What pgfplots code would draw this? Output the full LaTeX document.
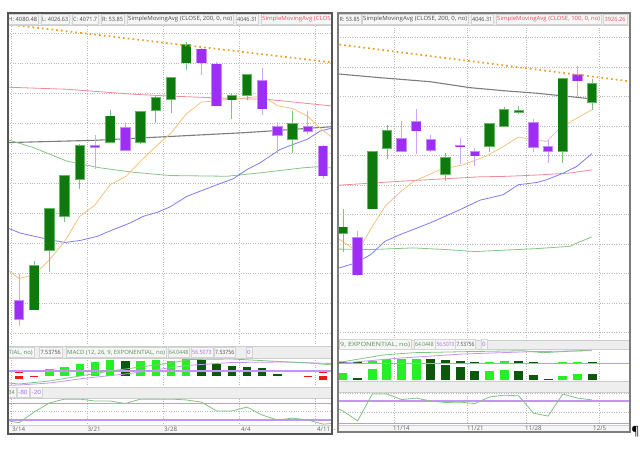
\documentclass[border=0pt]{standalone}
\usepackage{pgfplots}
\pgfplotsset{compat=1.18}
\usepackage{pgfplotstable}
\usepackage{graphicx}
\usepackage{fontspec}
\setmainfont{Open Sans}

\definecolor{upfill}{RGB}{14,122,14}
\definecolor{upedge}{RGB}{100,185,100}
\definecolor{upwick}{RGB}{125,195,125}
\definecolor{dnfill}{RGB}{158,46,246}
\definecolor{dnedge}{RGB}{195,140,250}
\definecolor{dnwick}{RGB}{210,165,250}
\definecolor{gridc}{RGB}{185,185,185}
\definecolor{maorange}{RGB}{242,196,128}
\definecolor{matrend}{RGB}{238,158,38}
\definecolor{mared}{RGB}{240,140,150}
\definecolor{magray}{RGB}{125,125,125}
\definecolor{magreen}{RGB}{135,198,135}
\definecolor{mablue}{RGB}{125,125,250}
\definecolor{hbright}{RGB}{40,238,40}
\definecolor{hdark}{RGB}{12,88,12}
\definecolor{hred}{RGB}{240,25,25}
\definecolor{macdg}{RGB}{130,195,130}
\definecolor{macdp}{RGB}{196,150,244}
\definecolor{txtg}{RGB}{85,145,85}
\definecolor{txtp}{RGB}{165,105,230}
\definecolor{txtr}{RGB}{232,80,95}
\definecolor{txt}{RGB}{75,75,75}
\definecolor{band}{RGB}{238,238,238}
\definecolor{band2}{RGB}{246,246,246}
\definecolor{boxf}{RGB}{246,246,246}
\definecolor{boxd}{RGB}{212,212,212}
\definecolor{sep}{RGB}{205,205,205}
\definecolor{framel}{RGB}{85,85,85}
\definecolor{framer}{RGB}{125,125,125}
\definecolor{lbl}{RGB}{100,100,100}

% ---------- left panel: March/April ----------
\pgfplotstableread{
i o h l c
1 4189 4271 4188 4262
2 4288 4358 4251 4357
3 4345 4413 4336 4412
4 4407 4465 4390 4463
6 4469 4522 4469 4512
8 4469 4521 4465 4520
9 4523 4546 4501 4543
10 4541 4576 4518 4576
11 4602 4637 4589 4631
14 4540 4549 4507 4546
15 4547 4583 4539 4582
18 4474 4521 4450 4500
}\LUp
\pgfplotstableread{
i o h l c
-1 4279 4291 4200 4204
0 4203 4248 4162 4173
5 4462 4481 4424 4461
7 4493 4501 4455 4456
12 4624 4627 4581 4602
13 4599 4603 4530 4530
16 4572 4593 4514 4525
17 4494 4503 4450 4481
19 4494 4521 4483 4488
20 4462 4464 4408 4413
}\LDn
% ---------- right panel: November ----------
\pgfplotstableread{
i o h l c
0 3818 3859 3786 3828
2 3860 3958 3859 3956
3 3963 4001 3944 3992
7 3919 3954 3907 3946
10 3966 4004 3956 4004
11 4000 4033 3999 4027
12 4024 4034 4021 4026
15 3957 4080 3938 4080
17 4041 4080 4027 4071
}\RUp
\pgfplotstableread{
i o h l c
1 3811 3822 3745 3748
4 3978 4009 3956 3957
5 4007 4029 3953 3992
6 3977 3984 3956 3959
8 3966 3980 3936 3965
9 3956 3962 3933 3950
13 4005 4012 3956 3964
14 3965 3977 3938 3958
16 4086 4101 4051 4077
}\RDn

\pgfplotsset{
  pane/.style={scale only axis, anchor=north west, clip=true,
    axis line style={draw=none}, tick style={draw=none},
    xticklabels={}, yticklabels={},
    grid=major, major grid style={gridc, dotted, line width=0.7pt}},
  vseg/.style 2 args={draw=none, mark=none, forget plot,
    /pgfplots/error bars/y dir=plus,
    /pgfplots/error bars/y explicit,
    /pgfplots/error bars/error mark=none,
    /pgfplots/error bars/error bar style={line width=#2, draw=#1, solid}},
}

\newcommand{\candles}[4]{%
  \addplot[vseg={#2}{0.9pt}] table[x=i, y=l, y error expr=\thisrow{h}-\thisrow{l}] {#1};
  \addplot[vseg={#3}{10.4pt}] table[x=i, y expr={min(\thisrow{o},\thisrow{c})-1.3},
     y error expr={max(abs(\thisrow{c}-\thisrow{o}),1.6)+2.6}] {#1};
  \addplot[vseg={#4}{8.6pt}] table[x=i, y expr={min(\thisrow{o},\thisrow{c})},
     y error expr={max(abs(\thisrow{c}-\thisrow{o}),1.6)}] {#1};
}

\tikzset{hbox/.style={anchor=west, inner xsep=1.2pt, inner ysep=0pt,
   minimum height=9.8pt, fill=boxf, draw=boxd, line width=0.4pt}}
% header item: #1 text left x, #2 y, #3 text width, #4 colour, #5 text
\newcommand{\hi}[5]{\node[hbox, text=#4] at ({#1pt-1.2pt},-#2pt) {\resizebox{#3pt}{\height}{#5}};}

\begin{document}
\begin{tikzpicture}[font=\fontsize{5.8}{6.5}\selectfont]
\fill[white] (0pt,0pt) rectangle (640pt,-449pt);
% bands
\fill[band] (8pt,-13pt) rectangle (332pt,-25pt);
\fill[band] (8pt,-346pt) rectangle (332pt,-358pt);
\fill[band] (8pt,-387pt) rectangle (332pt,-398pt);
\fill[band2] (8pt,-425.5pt) rectangle (332pt,-434pt);
\fill[band] (338pt,-13pt) rectangle (630pt,-25pt);
\fill[band] (338pt,-340pt) rectangle (630pt,-349pt);
\fill[band] (338pt,-381pt) rectangle (630pt,-392pt);
\fill[band2] (338pt,-425pt) rectangle (630pt,-432pt);

% ===== LEFT PRICE =====
\begin{axis}[pane, at={(8pt,-25pt)}, width=324pt, height=321pt,
  xmin=-0.724, xmax=20.59, ymin=4128.1, ymax=4664.8,
  xtick={-0.5,4.5,9.5,14.5,19.5}, ytick={4150,4200,...,4650}]
\addplot[mared, line width=0.8pt] coordinates {(-1,4561) (3.16,4557.4) (7.5,4549.0) (9.74,4546.2) (14.08,4541.8) (16.3,4540.6) (20.46,4529.7) (21,4528.5)};
\addplot[magray, line width=1.1pt] coordinates {(-1,4468) (5,4472) (10,4478.5) (15,4485) (21,4495.5)};
\addplot[magreen, line width=0.8pt] coordinates {(-1,4475) (0.92,4460.1) (3.16,4437.1) (5.33,4426.0) (7.5,4418.6) (9.93,4413.1) (13.68,4411.9) (15.86,4417.6) (18.68,4426.0) (19.6,4427.7) (21,4424.9)};
\addplot[mablue, line width=0.8pt] coordinates {(-1,4328) (0.07,4317.0) (2.04,4305.7) (3.03,4301.2) (4.01,4304.5) (5.13,4311.3) (6.18,4322.5) (7.3,4333.7) (8.16,4344.8) (9.08,4351.5) (9.93,4360.6) (11.05,4378.4) (12.76,4395.2) (14.08,4407.6) (15.0,4423.2) (15.86,4434.4) (17.17,4456.7) (18.03,4465.1) (18.95,4473.5) (19.8,4487.4) (21.12,4495.8)};
\addplot[maorange, line width=0.8pt] coordinates {(-1,4260) (0,4241) (1,4247) (2,4272) (3,4303) (4,4345) (5,4364) (6,4398) (7,4411) (8,4437) (9,4462) (10,4484) (11,4516) (12,4536) (13,4538) (14,4541) (15,4543) (16,4546) (17,4530) (18,4525) (19,4512) (20,4488) (21,4470)};
\candles{\LUp}{upwick}{upedge}{upfill}
\candles{\LDn}{dnwick}{dnedge}{dnfill}
\addplot[matrend, line width=1.7pt, dash pattern=on 1.7pt off 3.1pt] coordinates {(-1,4666.7) (21,4601.0)};
\end{axis}

% ===== LEFT MACD =====
\begin{axis}[pane, at={(8pt,-358pt)}, width=324pt, height=29pt,
  xmin=-0.724, xmax=20.59, ymin=-11, ymax=18,
  xtick={-0.5,4.5,9.5,14.5,19.5}, ytick=\empty]
\addplot[vseg={hbright}{8.5pt}] coordinates {(2,0) +- (0,7) (3,0) +- (0,9) (4,0) +- (0,12) (5,0) +- (0,14) (6,0) +- (0,16) (8,0) +- (0,15) (9,0) +- (0,16) (10,0) +- (0,15.5) (11,0) +- (0,17)};
\addplot[vseg={hdark}{8.5pt}] coordinates {(7,0) +- (0,15) (12,0) +- (0,16) (13,0) +- (0,12) (14,0) +- (0,10) (15,0) +- (0,9) (16,0) +- (0,8) (17,0) +- (0,2) (17,5) +- (0,1)};
\addplot[vseg={hred}{8.5pt}] coordinates {(0,-3) +- (0,3) (1,-1.3) +- (0,1.3) (19,-1.3) +- (0,1.3) (20,-4) +- (0,4) (0,3.2) +- (0,1.8) (1,3.8) +- (0,1.2) (19,3.8) +- (0,1.2) (20,3.2) +- (0,1.8)};
\addplot[macdp, line width=1.1pt] coordinates {(-2,5) (22,5)};
\addplot[macdp, line width=0.8pt] coordinates {(-1,-9.5) (0,-9) (2,-7) (4.2,-2.5) (7.3,2.5) (11,10.5) (14,13.5) (17.4,14) (21,12.3)};
\addplot[macdg, line width=0.8pt] coordinates {(-1,-6.5) (0,-8) (2,-5) (4,0) (6,5) (8,9) (10,13) (11.2,16.5) (14,17) (16.5,15) (19.1,13) (21,10.5)};
\end{axis}

% ===== LEFT OSC =====
\begin{axis}[pane, at={(8pt,-398pt)}, width=324pt, height=27.5pt,
  xmin=-0.724, xmax=20.59, ymin=-100, ymax=0,
  xtick={-0.5,4.5,9.5,14.5,19.5}, ytick={-50}]
\addplot[macdp, line width=1.1pt] coordinates {(-2,-20) (22,-20)};
\addplot[macdp, line width=1.1pt] coordinates {(-2,-80) (22,-80)};
\addplot[macdg, line width=0.8pt] coordinates {(-1,-80) (0,-90) (1,-51) (2,-18) (3,-4) (4,-4) (5,-11) (6,-11) (7,-20) (8,-4) (9,-4) (10,-4) (11,-7) (12,-15) (13,-47) (14,-47) (15,-33) (16,-62) (17,-80) (18,-73) (19,-80) (20,-95) (21,-91)};
\end{axis}

% ===== RIGHT PRICE =====
\begin{axis}[pane, at={(338pt,-25pt)}, width=292pt, height=315pt,
  xmin=-0.341, xmax=19.59, ymin=3637.3, ymax=4171.2,
  xtick={3.5,8.5,12.5,17.5}, ytick={3650,3700,...,4150}]
\addplot[mared, line width=0.8pt] coordinates {(-0.4,3899.5) (3.69,3906.0) (9.35,3913.9) (10.92,3914.5) (13.24,3916.9) (15.5,3920.3) (17.0,3925.8)};
\addplot[magray, line width=1.1pt] coordinates {(-0.4,4088.4) (2.53,4081.9) (5.94,4075.1) (8.67,4065.0) (10.92,4059.9) (13.24,4055.5) (15.5,4049.8) (17.0,4045.9)};
\addplot[magreen, line width=0.8pt] coordinates {(-0.4,3791.4) (1.84,3790.5) (4.8,3793.4) (7.08,3790.5) (9.0,3787.2) (13.23,3792.2) (15.5,3796.1) (15.95,3801.5) (16.98,3812.0)};
\addplot[mablue, line width=0.8pt] coordinates {(-0.4,3758.5) (0.89,3768.0) (1.89,3782.1) (2.87,3804.6) (3.89,3815.9) (5.94,3835.7) (7.99,3858.2) (9.35,3874.3) (10.94,3883.6) (11.97,3900.5) (13.23,3904.3) (13.9,3908.9) (15.04,3920.2) (15.95,3931.4) (16.98,3952.9)};
\addplot[maorange, line width=0.8pt] coordinates {(-0.4,3810) (0,3804) (1,3787) (1.91,3826) (2.87,3863.8) (3.89,3887.8) (4.8,3906.0) (6.62,3925.8) (8.21,3934.3) (9.81,3949.5) (10.94,3965.2) (11.97,3981.1) (12.99,3977.7) (13.9,3973.7) (14.81,3996.3) (15.95,4013.3) (16.98,4027.3)};
\candles{\RUp}{upwick}{upedge}{upfill}
\candles{\RDn}{dnwick}{dnedge}{dnfill}
\addplot[matrend, line width=1.7pt, dash pattern=on 1.7pt off 3.1pt] coordinates {(-0.89,4140.1) (19.93,4074.6)};
\end{axis}

% ===== RIGHT MACD =====
\begin{axis}[pane, at={(338pt,-349pt)}, width=292pt, height=32pt,
  xmin=-0.341, xmax=19.59, ymin=-1, ymax=31,
  xtick={3.5,8.5,12.5,17.5}, ytick=\empty]
\addplot[vseg={hbright}{9pt}] coordinates {(0,0) +- (0,6.7) (2,0) +- (0,10.7) (3,0) +- (0,20.7) (4,0) +- (0,21) (5,0) +- (0,21) (10,0) +- (0,9.3) (11,0) +- (0,10) (15,0) +- (0,4.3) (16,0) +- (0,5.7) (2,16.7) +- (0,2.7) (10,16.7) +- (0,1.7) (11,16.7) +- (0,2.3) (15,16.7) +- (0,1) (16,16.7) +- (0,1.7)};
\addplot[vseg={hdark}{9pt}] coordinates {(1,0) +- (0,1.7) (6,0) +- (0,21) (7,0) +- (0,15) (8,0) +- (0,12.7) (9,0) +- (0,9.3) (12,0) +- (0,9.3) (13,0) +- (0,4.7) (14,0) +- (0,1) (17,0) +- (0,6) (0,16.7) +- (0,1.7) (1,16.7) +- (0,1) (7,16.7) +- (0,3.3) (8,16.7) +- (0,2.7) (9,16.7) +- (0,1.7) (12,16.7) +- (0,2.3) (13,16.7) +- (0,1) (14,16.7) +- (0,0.6) (17,16.7) +- (0,1.3)};
\addplot[macdp, line width=1.1pt] coordinates {(-1,16.7) (20,16.7)};
\addplot[macdp, line width=0.8pt] coordinates {(-0.4,16.8) (0,17) (3.66,21.7) (8.2,26) (12.76,28.3) (16.98,29.3)};
\addplot[macdg, line width=0.8pt] coordinates {(-0.4,18.3) (0,18.3) (2.75,25) (4.8,27.3) (8.2,28.3) (12.3,29.3) (13.67,27.3) (16.98,30)};
\end{axis}

% ===== RIGHT OSC =====
\begin{axis}[pane, at={(338pt,-392pt)}, width=292pt, height=33pt,
  xmin=-0.341, xmax=19.59, ymin=-85.3, ymax=4.6,
  xtick={3.5,8.5,12.5,17.5}, ytick={-50,0}]
\addplot[macdp, line width=1.1pt] coordinates {(-1,-20) (20,-20)};
\addplot[macdp, line width=1.1pt] coordinates {(-1,-80) (20,-80)};
\addplot[macdg, line width=0.8pt] coordinates {(-1,-28) (0,-47) (1,-74) (2,-1) (3,-1) (4,-16) (5,-12) (6,-20) (7,-24) (8,-23) (9,-27) (10,-9) (11,-4) (12,-6) (13,-53) (14,-61) (15,-1) (16,-12) (17,-17)};
\end{axis}

% separators
\begin{scope}[sep, line width=0.5pt]
\foreach \y in {25,346,358,387,398,425.5} \draw (8pt,-\y pt) -- (332pt,-\y pt);
\foreach \y in {25,340,349,381,392,425} \draw (338pt,-\y pt) -- (630pt,-\y pt);
\end{scope}

% header texts, left
\begin{scope}
\clip (8pt,-13pt) rectangle (332pt,-434pt);
\hi{8}{19}{29}{txt}{H: 4080.48}
\hi{42}{19}{26}{txt}{L: 4026.63}
\hi{73}{19}{24}{txt}{C: 4071.7}
\hi{102}{19}{21}{txt}{R: 53.85}
\hi{128}{19}{104}{txt}{SimpleMovingAvg (CLOSE, 200, 0, no)}
\hi{237}{19}{20}{txt}{4046.31}
\hi{262}{19}{68.5}{txtr}{SimpleMovingAvg (CLOS}
\hi{8.5}{352.5}{24}{txtg}{TIAL, no)}
\hi{40.5}{352.5}{20}{txt}{7.53756}
\hi{67}{352.5}{98}{txtg}{MACD (12, 26, 9, EXPONENTIAL, no)}
\hi{169}{352.5}{19}{txtg}{64.0448}
\hi{192}{352.5}{19.5}{txtp}{56.5073}
\hi{215}{352.5}{19}{txt}{7.53756}
\hi{247}{352.5}{3.6}{txtp}{0}
\hi{8.5}{392.5}{6}{txtg}{34}
\hi{18}{392.5}{9.5}{txtp}{-80}
\hi{31.5}{392.5}{9.5}{txtp}{-20}
\begin{scope}[font=\fontsize{6.2}{7}\selectfont]
\node[anchor=west, inner sep=0pt, text=lbl] at (12pt,-429.7pt) {3/14};
\node[anchor=west, inner sep=0pt, text=lbl] at (87.5pt,-429.7pt) {3/21};
\node[anchor=west, inner sep=0pt, text=lbl] at (164pt,-429.7pt) {3/28};
\node[anchor=west, inner sep=0pt, text=lbl] at (241pt,-429.7pt) {4/4};
\node[anchor=west, inner sep=0pt, text=lbl] at (317pt,-429.7pt) {4/11};
\end{scope}
\end{scope}

% header texts, right
\begin{scope}
\clip (338pt,-13pt) rectangle (630pt,-432pt);
\hi{339.5}{19}{20}{txt}{R: 53.85}
\hi{363}{19}{104}{txt}{SimpleMovingAvg (CLOSE, 200, 0, no)}
\hi{472}{19}{20}{txt}{4046.31}
\hi{497}{19}{103}{txtr}{SimpleMovingAvg (CLOSE, 100, 0, no)}
\hi{604.5}{19}{21}{txtr}{3926.26}
\hi{340}{344.5}{70}{txtg}{9, EXPONENTIAL, no)}
\hi{415}{344.5}{18.5}{txtg}{64.0448}
\hi{436.5}{344.5}{17.5}{txtp}{56.5073}
\hi{456.5}{344.5}{17.5}{txt}{7.53756}
\hi{482}{344.5}{3.6}{txtp}{0}
\begin{scope}[font=\fontsize{6.2}{7}\selectfont]
\node[anchor=west, inner sep=0pt, text=lbl] at (393pt,-428.5pt) {11/14};
\node[anchor=west, inner sep=0pt, text=lbl] at (467pt,-428.5pt) {11/21};
\node[anchor=west, inner sep=0pt, text=lbl] at (525pt,-428.5pt) {11/28};
\node[anchor=west, inner sep=0pt, text=lbl] at (593pt,-428.5pt) {12/5};
\end{scope}
\end{scope}

% frames
\draw[framel, line width=1.4pt] (8pt,-13pt) rectangle (332pt,-434pt);
\draw[framer, line width=1.6pt] (338pt,-13pt) rectangle (630pt,-432pt);
\node[inner sep=0pt] at (334.8pt,-430pt) {.};
\node[inner sep=0pt, font=\fontsize{12}{12}\selectfont] at (635.5pt,-432pt) {¶};

\pgfresetboundingbox
\path (0pt,0pt) rectangle (640pt,-449pt);
\end{tikzpicture}
\end{document}
